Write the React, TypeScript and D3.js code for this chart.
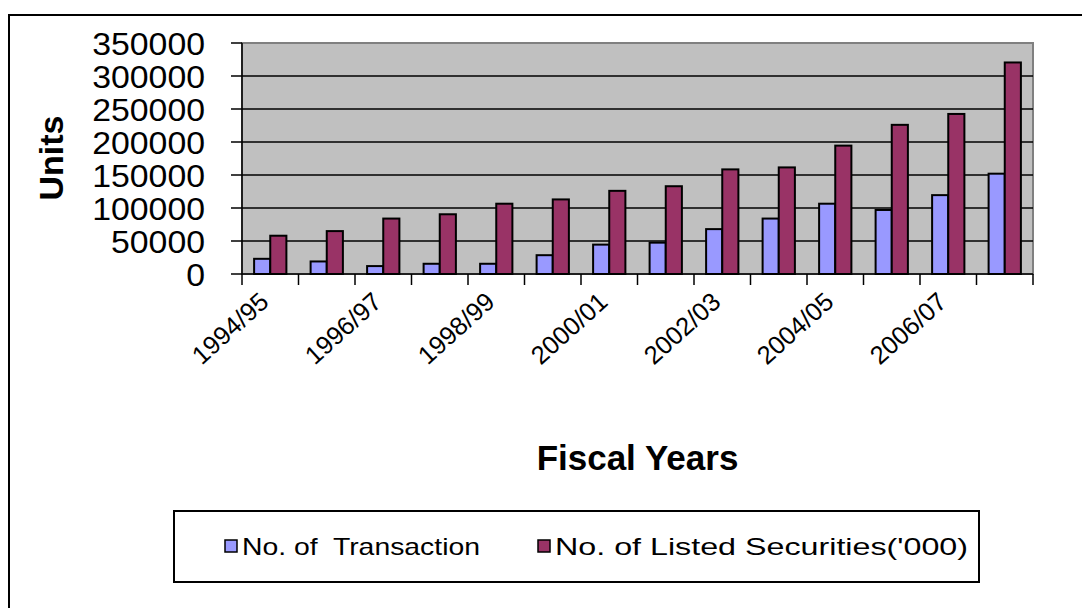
import React from "react";
import * as d3 from "d3";

const categories = [
  "1994/95", "1995/96", "1996/97", "1997/98", "1998/99", "1999/00", "2000/01",
  "2001/02", "2002/03", "2003/04", "2004/05", "2005/06", "2006/07", "2007/08",
];
const transactions = [23000, 19000, 12000, 15500, 15500, 28500, 44500, 47500, 68000, 84000, 106500, 97000, 119500, 152000];
const listedSecurities = [58000, 65000, 84000, 90500, 106500, 113000, 126000, 133000, 158500, 161500, 194500, 226000, 242500, 320500];
const yTicks = [0, 50000, 100000, 150000, 200000, 250000, 300000, 350000];
const seriesNames = ["No. of  Transaction", "No. of Listed Securities('000)"];
const seriesColors = ["#9999FF", "#993366"];

const FONT = "'Liberation Sans', Arial, sans-serif";

export default function App() {
  const W = 1082, H = 608;
  const left = 242, right = 1033, top = 43, bottom = 274;
  const x = d3.scaleBand<string>().domain(categories).range([left, right]).paddingInner(0).paddingOuter(0);
  const y = d3.scaleLinear().domain([0, 350000]).range([bottom, top]);
  const bw = x.bandwidth() / 3.5;
  const offset = (x.bandwidth() - 2 * bw) / 2;
  const series = [transactions, listedSecurities];
  const legendX = [225, 538];
  const legendLen = [238, 413];

  return (
    <svg width={W} height={H} style={{ position: "absolute", left: 0, top: 0 }} fontFamily={FONT}>
      <rect x={0} y={0} width={W} height={H} fill="#fff" />
      <rect x={9} y={15} width={W + 20} height={H + 20} fill="none" stroke="#000" strokeWidth={2} />
      {/* plot area */}
      <rect x={left} y={top} width={right - left} height={bottom - top} fill="#C0C0C0" stroke="#808080" strokeWidth={2} />
      {yTicks.filter((t) => t > 0 && t < 350000).map((t) => (
        <line key={t} x1={left} x2={right} y1={y(t)} y2={y(t)} stroke="#000" strokeWidth={1.5} />
      ))}
      {/* bars */}
      {categories.map((c, i) => (
        <g key={c}>
          {series.map((s, k) => (
            <rect key={k} x={(x(c) as number) + offset + k * bw} y={y(s[i])} width={bw} height={bottom - y(s[i])}
              fill={seriesColors[k]} stroke="#000" strokeWidth={2} />
          ))}
        </g>
      ))}
      {/* axes */}
      <line x1={left} x2={left} y1={top} y2={bottom} stroke="#000" strokeWidth={1.5} />
      <line x1={left} x2={right} y1={bottom} y2={bottom} stroke="#000" strokeWidth={1.5} />
      {yTicks.map((t) => (
        <g key={t}>
          <line x1={left - 11} x2={left} y1={y(t)} y2={y(t)} stroke="#000" strokeWidth={1.5} />
          <text x={205} y={y(t)} dy="0.36em" textAnchor="end" fontSize={32}
            textLength={String(t).length * 18.8} lengthAdjust="spacingAndGlyphs">{t}</text>
        </g>
      ))}
      {categories.map((c) => (
        <line key={c} x1={x(c) as number} x2={x(c) as number} y1={bottom} y2={bottom + 11} stroke="#000" strokeWidth={1.5} />
      ))}
      <line x1={right} x2={right} y1={bottom} y2={bottom + 11} stroke="#000" strokeWidth={1.5} />
      {categories.map((c, i) => i % 2 === 0 ? (
        <text key={c} transform={`translate(${(x(c) as number) + x.bandwidth() / 2},${bottom + 30}) rotate(-42)`}
          textAnchor="end" fontSize={25.5}>{c}</text>
      ) : null)}
      <text transform={`translate(63,158) rotate(-90)`} textAnchor="middle" fontSize={34} fontWeight="bold">Units</text>
      <text x={(left + right) / 2} y={470} textAnchor="middle" fontSize={35} fontWeight="bold">Fiscal Years</text>
      {/* legend */}
      <rect x={174} y={511} width={805} height={71} fill="#fff" stroke="#000" strokeWidth={2} />
      {seriesNames.map((n, k) => (
        <g key={n}>
          <rect x={legendX[k]} y={540} width={12} height={12} fill={seriesColors[k]} stroke="#000" strokeWidth={1.5} />
          <text x={legendX[k] + 17} y={555} fontSize={24} style={{ whiteSpace: "pre" }}
            textLength={legendLen[k]} lengthAdjust="spacingAndGlyphs">{n}</text>
        </g>
      ))}
    </svg>
  );
}
